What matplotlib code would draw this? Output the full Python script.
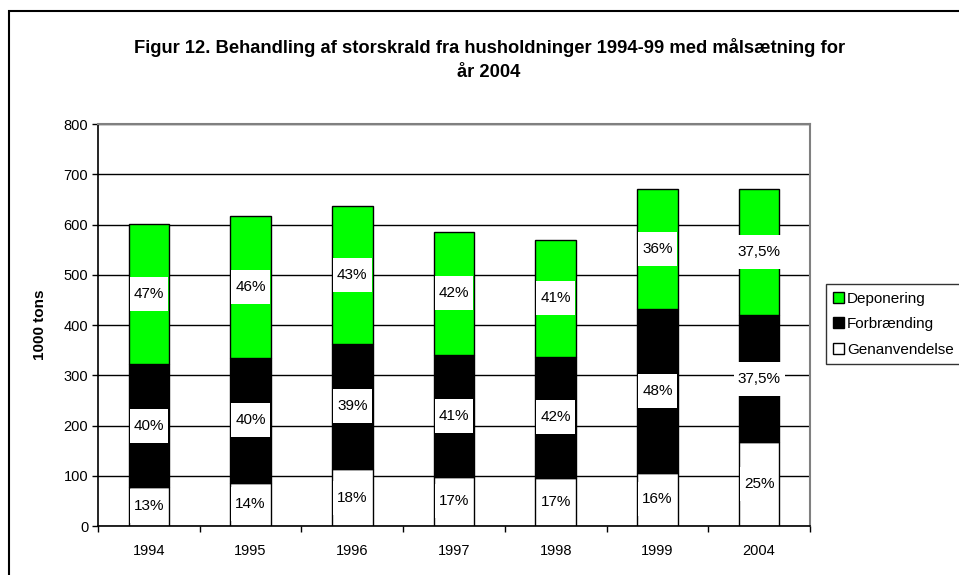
import matplotlib
matplotlib.use("Agg")
import matplotlib.pyplot as plt
from matplotlib.patches import Rectangle
import numpy as np

plt.rcParams['font.family'] = ['Liberation Sans', 'DejaVu Sans']

years = ['1994', '1995', '1996', '1997', '1998', '1999', '2004']
genanvendelse = [78, 86, 113, 98, 95, 106, 167]
forbraending = [244, 249, 250, 242, 242, 326, 253]
deponering = [279, 282, 274, 246, 233, 238, 250]

pct_gen = ['13%', '14%', '18%', '17%', '17%', '16%', '25%']
pct_forb = ['40%', '40%', '39%', '41%', '42%', '48%', '37,5%']
pct_dep = ['47%', '46%', '43%', '42%', '41%', '36%', '37,5%']

fig = plt.figure(figsize=(9.59, 5.75), dpi=100)
ax = fig.add_axes([0.1022, 0.0852, 0.7424, 0.6991])

x = np.arange(len(years))
gen = np.array(genanvendelse)
forb = np.array(forbraending)
dep = np.array(deponering)

w = 0.4
b1 = ax.bar(x, gen, w, color='white', edgecolor='black', linewidth=1, label='Genanvendelse', zorder=2)
b2 = ax.bar(x, forb, w, bottom=gen, color='black', edgecolor='black', linewidth=1, label='Forbrænding', zorder=2)
b3 = ax.bar(x, dep, w, bottom=gen + forb, color='#00ff00', edgecolor='black', linewidth=1, label='Deponering', zorder=2)

fs = 11
labels = []
for i in range(len(years)):
    labels.append(ax.text(x[i], gen[i] / 2, pct_gen[i], ha='center', va='center', fontsize=fs, zorder=5))
    labels.append(ax.text(x[i], gen[i] + forb[i] / 2, pct_forb[i], ha='center', va='center', fontsize=fs, zorder=5))
    labels.append(ax.text(x[i], gen[i] + forb[i] + dep[i] / 2, pct_dep[i], ha='center', va='center', fontsize=fs, zorder=5))

ax.set_xlim(-0.5, len(years) - 0.5)
ax.set_ylim(0, 800)
ax.set_yticks(np.arange(0, 801, 100))
ax.yaxis.grid(True, color='black', linewidth=1)
ax.set_axisbelow(True)
ax.set_xticks(x)
ax.set_xticklabels(years, fontsize=10.5)
ax.set_xticks(np.arange(-0.5, len(years), 1), minor=True)
ax.tick_params(axis='x', which='major', length=0, pad=13)
ax.tick_params(axis='x', which='minor', length=4, width=1, direction='out')
ax.tick_params(axis='y', length=4, width=1, direction='out', labelsize=10.5, pad=3)

for s in ['top', 'right']:
    ax.spines[s].set_color('#808080')
    ax.spines[s].set_linewidth(1.5)
ax.spines['left'].set_linewidth(1.2)
ax.spines['bottom'].set_linewidth(1.2)

ax.set_ylabel('1000 tons', fontsize=11, fontweight='bold', labelpad=12)

fig.text(0.51, 0.918, 'Figur 12. Behandling af storskrald fra husholdninger 1994-99 med målsætning for',
         ha='center', va='center', fontsize=13.2, fontweight='bold')
fig.text(0.51, 0.874, 'år 2004', ha='center', va='center', fontsize=13.2, fontweight='bold')

handles = [b3, b2, b1]
leg = fig.legend(handles, ['Deponering', 'Forbrænding', 'Genanvendelse'],
                 loc='upper left', bbox_to_anchor=(0.861, 0.506), fontsize=11,
                 frameon=True, fancybox=False, edgecolor='black', handlelength=0.7,
                 handleheight=0.7, handletextpad=0.2, borderpad=0.5, labelspacing=0.75,
                 borderaxespad=0)
leg.get_frame().set_linewidth(1)

# white boxes behind the percent labels: narrow sideways, tall vertically
fig.canvas.draw()
r = fig.canvas.get_renderer()
inv = ax.transData.inverted()
for t in labels:
    bb = t.get_window_extent(r)
    (x0, y0), (x1, y1) = inv.transform([(bb.x0 - 4, bb.y0 - 10), (bb.x1 + 4, bb.y1 + 10)])
    ax.add_patch(Rectangle((x0, y0), x1 - x0, y1 - y0, facecolor='white',
                           edgecolor='none', zorder=4, clip_on=False))

fig.patches.append(Rectangle((9 / 959, -0.1), 1.2, 1 - 11 / 575 + 0.1, transform=fig.transFigure,
                             fill=False, edgecolor='black', linewidth=1.5, zorder=0))

fig.savefig('out.png', dpi=100)
